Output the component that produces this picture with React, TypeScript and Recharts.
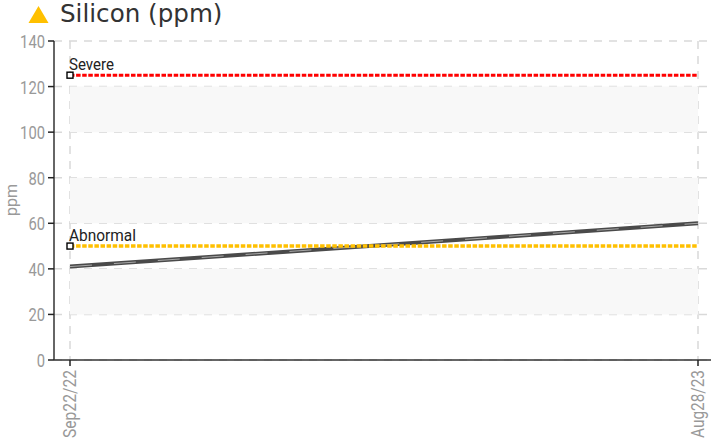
import React from "react";
import { ComposedChart, Line, XAxis, YAxis, CartesianGrid, ReferenceArea } from "recharts";

const dates = ["Sep22/22", "Aug28/23"];
const silicon = [41, 60];
const severe = [125, 125];
const abnormal = [50, 50];
const yTicks = [0, 20, 40, 60, 80, 100, 120, 140];
const data = dates.map((d, i) => ({ d, silicon: silicon[i], severe: severe[i], abnormal: abnormal[i] }));

const GREY = "#999";
const FONT = "Roboto, 'Liberation Sans', sans-serif";

const XTick = (p: any) => (
  <text x={0} y={0} transform={`translate(${p.x + 6},${p.y + 2}) rotate(-90)`} textAnchor="end" fontSize={18} fontFamily={FONT} fill={GREY} textLength={p.payload.value.length * 8.5} lengthAdjust="spacingAndGlyphs">
    {p.payload.value}
  </text>
);

const YTick = (p: any) => (
  <text x={p.x - 1} y={p.y + 7} textAnchor="end" fontSize={19} fontFamily={FONT} fill={GREY} textLength={String(p.payload.value).length * 8.3} lengthAdjust="spacingAndGlyphs">
    {p.payload.value}
  </text>
);

const Start = (label: string) => (p: any) => {
  if (p.index !== 0) return <g key={p.index} />;
  return (
    <g key={p.index}>
      <rect x={p.cx - 3} y={p.cy - 3} width={6} height={6} fill="#fff" stroke="#000" strokeWidth={1.4} />
      <text x={p.cx - 1} y={p.cy - 5} fontSize={17} fontFamily={FONT} fill="#222" textLength={label.length === 6 ? 45 : 67} lengthAdjust="spacingAndGlyphs">{label}</text>
    </g>
  );
};

export default function App() {
  return (
    <div style={{ position: "absolute", left: 0, top: 0, width: 711, height: 443, background: "#fff" }}>
      <svg width={26} height={20} style={{ position: "absolute", left: 26, top: 4 }}>
        <polygon points="12.5,2 22.5,19 2.5,19" fill="#FFC000" />
      </svg>
      <ComposedChart width={711} height={443} data={data} margin={{ top: 41, right: 0, bottom: 0, left: 0 }}>
        <ReferenceArea y1={100} y2={120} fill="#f8f8f8" fillOpacity={1} stroke="none" />
        <ReferenceArea y1={60} y2={80} fill="#f8f8f8" fillOpacity={1} stroke="none" />
        <ReferenceArea y1={20} y2={40} fill="#f8f8f8" fillOpacity={1} stroke="none" />
        <CartesianGrid stroke="#d9d9d9" strokeWidth={1.5} strokeDasharray="8 7" syncWithTicks />
        <XAxis dataKey="d" scale="point" padding={{ left: 16, right: 13 }} interval={0} height={83} tick={<XTick />} tickSize={6} axisLine={{ stroke: "#333", strokeWidth: 1.5 }} tickLine={{ stroke: "#222", strokeWidth: 1.5 }} />
        <YAxis width={54} domain={[0, 140]} ticks={yTicks} interval={0} tick={<YTick />} tickSize={6} axisLine={{ stroke: "#333", strokeWidth: 1.5 }} tickLine={{ stroke: "#222", strokeWidth: 1.5 }} />
        <Line dataKey="severe" stroke="#ff0000" strokeWidth={3} strokeDasharray="4.5 1.6" dot={Start("Severe")} isAnimationActive={false} />
        <Line dataKey="silicon" stroke="#4a4a4a" strokeWidth={4} dot={false} isAnimationActive={false} />
        <Line dataKey="silicon" stroke="#a8a8a8" strokeWidth={1} strokeDasharray="22 22" dot={false} isAnimationActive={false} />
        <Line dataKey="abnormal" stroke="#FFC000" strokeWidth={3.5} strokeDasharray="4.5 1.6" dot={Start("Abnormal")} isAnimationActive={false} />
      </ComposedChart>
      <div style={{ position: "absolute", left: 60, top: -2, fontSize: 24.6, lineHeight: "32px", fontFamily: "'DejaVu Sans', sans-serif", color: "#333", whiteSpace: "nowrap" }}>Silicon (ppm)</div>
      <div style={{ position: "absolute", left: 2, top: 184, height: 32, writingMode: "vertical-rl", transform: "rotate(180deg)", fontSize: 16, fontFamily: FONT, color: GREY }}>ppm</div>
    </div>
  );
}
